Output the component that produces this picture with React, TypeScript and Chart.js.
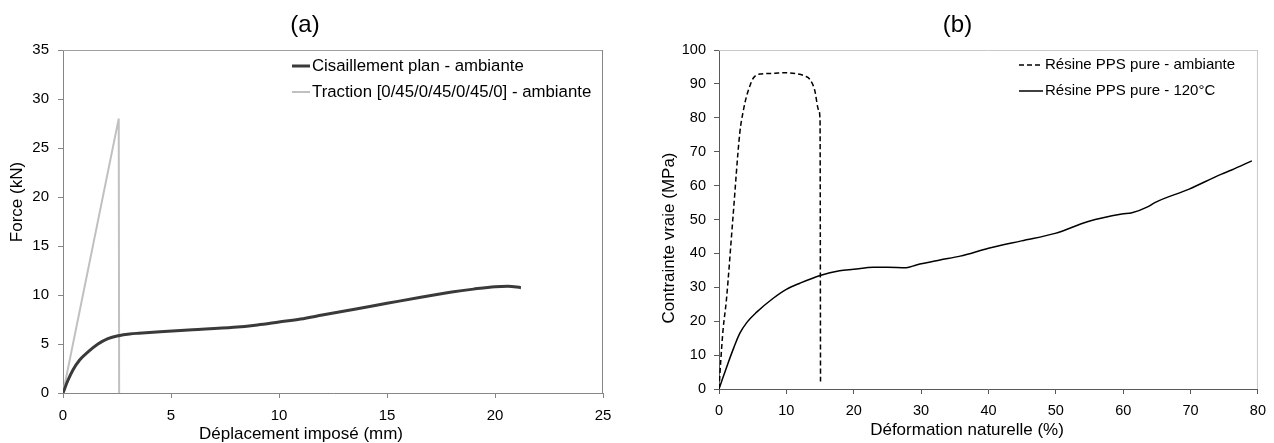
import React, { useEffect, useRef } from "react";
import { Chart, registerables } from "chart.js";

Chart.register(...registerables);
const FONT = "'Liberation Sans', Arial, sans-serif";
Chart.defaults.font.family = FONT;

// ---------- (a) data ----------
const shearX = [0, 0.23, 0.46, 0.77, 1.16, 1.62, 2.08, 2.58, 3.09, 3.5, 4.5, 6.0, 7.9, 9.0, 10.0, 11.0, 12.0, 13.5, 15.0, 16.5, 18.0, 19.0, 20.0, 20.6, 21.2];
const shearY = [0, 1.3, 2.35, 3.37, 4.2, 5.0, 5.55, 5.85, 6.02, 6.1, 6.26, 6.45, 6.7, 6.95, 7.25, 7.55, 7.95, 8.55, 9.15, 9.75, 10.3, 10.6, 10.85, 10.9, 10.75];
const tractionX = [0, 2.58, 2.6];
const tractionY = [0, 28, 0];
const labelsA = ["Cisaillement plan - ambiante", "Traction [0/45/0/45/0/45/0] - ambiante"];
const titleA = "(a)";
const axisTitlesA = ["Déplacement imposé (mm)", "Force (kN)"];

// ---------- (b) data ----------
const ambX = [0, 0.25, 0.6, 1.1, 2.08, 3.08, 3.6, 4.07, 4.6, 5.05, 6.05, 8.0, 9.5, 11.5, 12.8, 13.5, 14.2, 14.8, 15.0, 15.07];
const ambY = [0, 8, 17.4, 26.3, 50.8, 75.4, 82.0, 86.2, 89.5, 91.6, 92.9, 93.1, 93.3, 93.0, 92.3, 91.3, 88.2, 82.3, 79.3, 1.7];
const hotX = [0, 1.34, 2.2, 3.08, 4.2, 5.55, 8.0, 10.0, 12.0, 15.0, 17.9, 20, 22.9, 25, 27.8, 29.3, 32.8, 35.8, 40, 44.9, 49.9, 54.8, 59.8, 61.3, 63.7, 64.7, 69.7, 74.6, 76.1, 79.1];
const hotY = [0, 7.6, 12.2, 16.4, 19.8, 22.6, 26.7, 29.4, 31.2, 33.5, 34.9, 35.3, 35.9, 35.9, 35.8, 36.6, 38.05, 39.2, 41.5, 43.7, 45.9, 49.4, 51.6, 52.0, 53.8, 55.0, 58.9, 63.4, 64.6, 67.3];
const labelsB = ["Résine PPS pure - ambiante", "Résine PPS pure - 120°C"];
const titleB = "(b)";
const axisTitlesB = ["Déformation naturelle (%)", "Contrainte vraie (MPa)"];

const pts = (xs: number[], ys: number[]) => xs.map((x, i) => ({ x, y: ys[i] }));

const framePlugin = {
  id: "frame",
  afterDatasetsDraw(chart: any, _args: any, opts: any) {
    const { ctx, chartArea: a } = chart;
    ctx.save();
    ctx.lineWidth = 1;
    ctx.strokeStyle = opts.topColor;
    ctx.beginPath();
    ctx.moveTo(a.left, a.top + 0.5);
    ctx.lineTo(a.right, a.top + 0.5);
    ctx.stroke();
    ctx.strokeStyle = opts.rightColor;
    ctx.beginPath();
    ctx.moveTo(a.right - 0.5, a.top);
    ctx.lineTo(a.right - 0.5, a.bottom);
    ctx.stroke();
    ctx.restore();
  },
};

const axisTitles = {
  id: "axisTitles",
  afterDraw(chart: any, _args: any, opts: any) {
    const { ctx } = chart;
    ctx.save();
    ctx.font = `${opts.size}px ${FONT}`;
    ctx.fillStyle = "#000";
    ctx.textAlign = "center";
    ctx.textBaseline = "middle";
    ctx.fillText(opts.xText, opts.xPos[0], opts.xPos[1]);
    ctx.translate(opts.yPos[0], opts.yPos[1]);
    ctx.rotate(-Math.PI / 2);
    ctx.fillText(opts.yText, 0, 0);
    ctx.restore();
  },
};

const inlineLegend = {
  id: "inlineLegend",
  afterDraw(chart: any, _args: any, opts: any) {
    const { ctx, chartArea: a } = chart;
    ctx.save();
    ctx.font = `${opts.size}px ${FONT}`;
    ctx.textBaseline = "middle";
    ctx.textAlign = "left";
    chart.data.datasets.forEach((ds: any, i: number) => {
      const y = a.top + opts.y + i * opts.gap;
      const x0 = a.left + opts.x;
      ctx.strokeStyle = ds.borderColor;
      ctx.lineWidth = ds.borderWidth;
      ctx.setLineDash(ds.borderDash || []);
      ctx.beginPath();
      ctx.moveTo(x0, y);
      ctx.lineTo(x0 + opts.len, y);
      ctx.stroke();
      ctx.setLineDash([]);
      ctx.fillStyle = "#000";
      ctx.fillText(ds.label, x0 + opts.len + 2, y);
    });
    ctx.restore();
  },
};

function ChartA() {
  const ref = useRef<HTMLCanvasElement>(null);
  useEffect(() => {
    const axisCol = "#868686";
    const chart = new Chart(ref.current!, {
      type: "line",
      data: {
        datasets: [
          {
            label: labelsA[0],
            data: pts(shearX, shearY),
            borderColor: "#3a3a3a",
            borderWidth: 3,
            pointRadius: 0,
            cubicInterpolationMode: "monotone",
            fill: false,
          },
          {
            label: labelsA[1],
            data: pts(tractionX, tractionY),
            borderColor: "#c0c0c0",
            borderWidth: 2,
            borderJoinStyle: "bevel",
            pointRadius: 0,
            tension: 0,
            fill: false,
          },
        ],
      },
      options: {
        animation: false,
        responsive: false,
        layout: { padding: { left: 7, right: 34, top: 0, bottom: 0 } },
        plugins: {
          legend: { display: false },
          tooltip: { enabled: false },
          title: {
            display: true,
            text: titleA,
            color: "#000",
            font: { size: 24, weight: "normal", lineHeight: 1.2 },
            padding: { top: 11, bottom: 10.2 },
          },
          frame: { topColor: "#a0a0a0", rightColor: axisCol },
          inlineLegend: { x: 229, y: 16, gap: 26, len: 18, size: 16.8 },
          axisTitles: { size: 17, xText: axisTitlesA[0], yText: axisTitlesA[1], xPos: [301, 434], yPos: [17, 202] },
        } as any,
        scales: {
          x: {
            type: "linear",
            min: 0,
            max: 25,
            ticks: { stepSize: 5, color: "#000", font: { size: 15 }, padding: 9 },
            grid: { drawOnChartArea: false, drawTicks: true, tickLength: 5, color: axisCol },
            border: { color: axisCol, width: 1 },
            afterFit: (s: any) => { s.height = 50; },
          },
          y: {
            type: "linear",
            min: 0,
            max: 35,
            ticks: { stepSize: 5, color: "#000", font: { size: 15 }, padding: 9 },
            grid: { drawOnChartArea: false, drawTicks: true, tickLength: 5, color: axisCol },
            border: { color: axisCol, width: 1 },
            afterFit: (s: any) => { s.width = 56; },
          },
        },
      } as any,
      plugins: [framePlugin, inlineLegend, axisTitles],
    });
    return () => chart.destroy();
  }, []);
  return <canvas ref={ref} width={637} height={443} style={{ position: "absolute", left: 0, top: 0 }} />;
}

function ChartB() {
  const ref = useRef<HTMLCanvasElement>(null);
  useEffect(() => {
    const axisCol = "#595959";
    const chart = new Chart(ref.current!, {
      type: "line",
      data: {
        datasets: [
          {
            label: labelsB[0],
            data: pts(ambX, ambY),
            borderColor: "#000",
            borderWidth: 1.5,
            borderDash: [5, 3],
            pointRadius: 0,
            cubicInterpolationMode: "monotone",
            fill: false,
          },
          {
            label: labelsB[1],
            data: pts(hotX, hotY),
            borderColor: "#000",
            borderWidth: 1.5,
            pointRadius: 0,
            cubicInterpolationMode: "monotone",
            fill: false,
          },
        ],
      },
      options: {
        animation: false,
        responsive: false,
        layout: { padding: { left: 20, right: 16, top: 0, bottom: 0 } },
        plugins: {
          legend: { display: false },
          tooltip: { enabled: false },
          title: {
            display: true,
            text: titleB,
            color: "#000",
            font: { size: 24, weight: "normal", lineHeight: 1.2 },
            padding: { top: 11, bottom: 10.2 },
          },
          frame: { topColor: "#c8c8c8", rightColor: "#c8c8c8" },
          inlineLegend: { x: 300, y: 15, gap: 26, len: 24, size: 15 },
          axisTitles: { size: 17, xText: axisTitlesB[0], yText: axisTitlesB[1], xPos: [330, 430], yPos: [32, 238] },
        } as any,
        scales: {
          x: {
            type: "linear",
            min: 0,
            max: 80,
            ticks: { stepSize: 10, color: "#000", font: { size: 14.5 }, padding: 8 },
            grid: { drawOnChartArea: false, drawTicks: true, tickLength: 5, color: axisCol },
            border: { color: axisCol, width: 1 },
            afterFit: (s: any) => { s.height = 54; },
          },
          y: {
            type: "linear",
            min: 0,
            max: 100,
            ticks: { stepSize: 10, color: "#000", font: { size: 14.5 }, padding: 8 },
            grid: { drawOnChartArea: false, drawTicks: true, tickLength: 5, color: axisCol },
            border: { color: axisCol, width: 1 },
            afterFit: (s: any) => { s.width = 62; },
          },
        },
      } as any,
      plugins: [framePlugin, inlineLegend, axisTitles],
    });
    return () => chart.destroy();
  }, []);
  return <canvas ref={ref} width={637} height={443} style={{ position: "absolute", left: 637, top: 0 }} />;
}

export default function App() {
  return (
    <div style={{ position: "fixed", left: 0, top: 0, width: 1274, height: 443, background: "#fff" }}>
      <ChartA />
      <ChartB />
    </div>
  );
}
